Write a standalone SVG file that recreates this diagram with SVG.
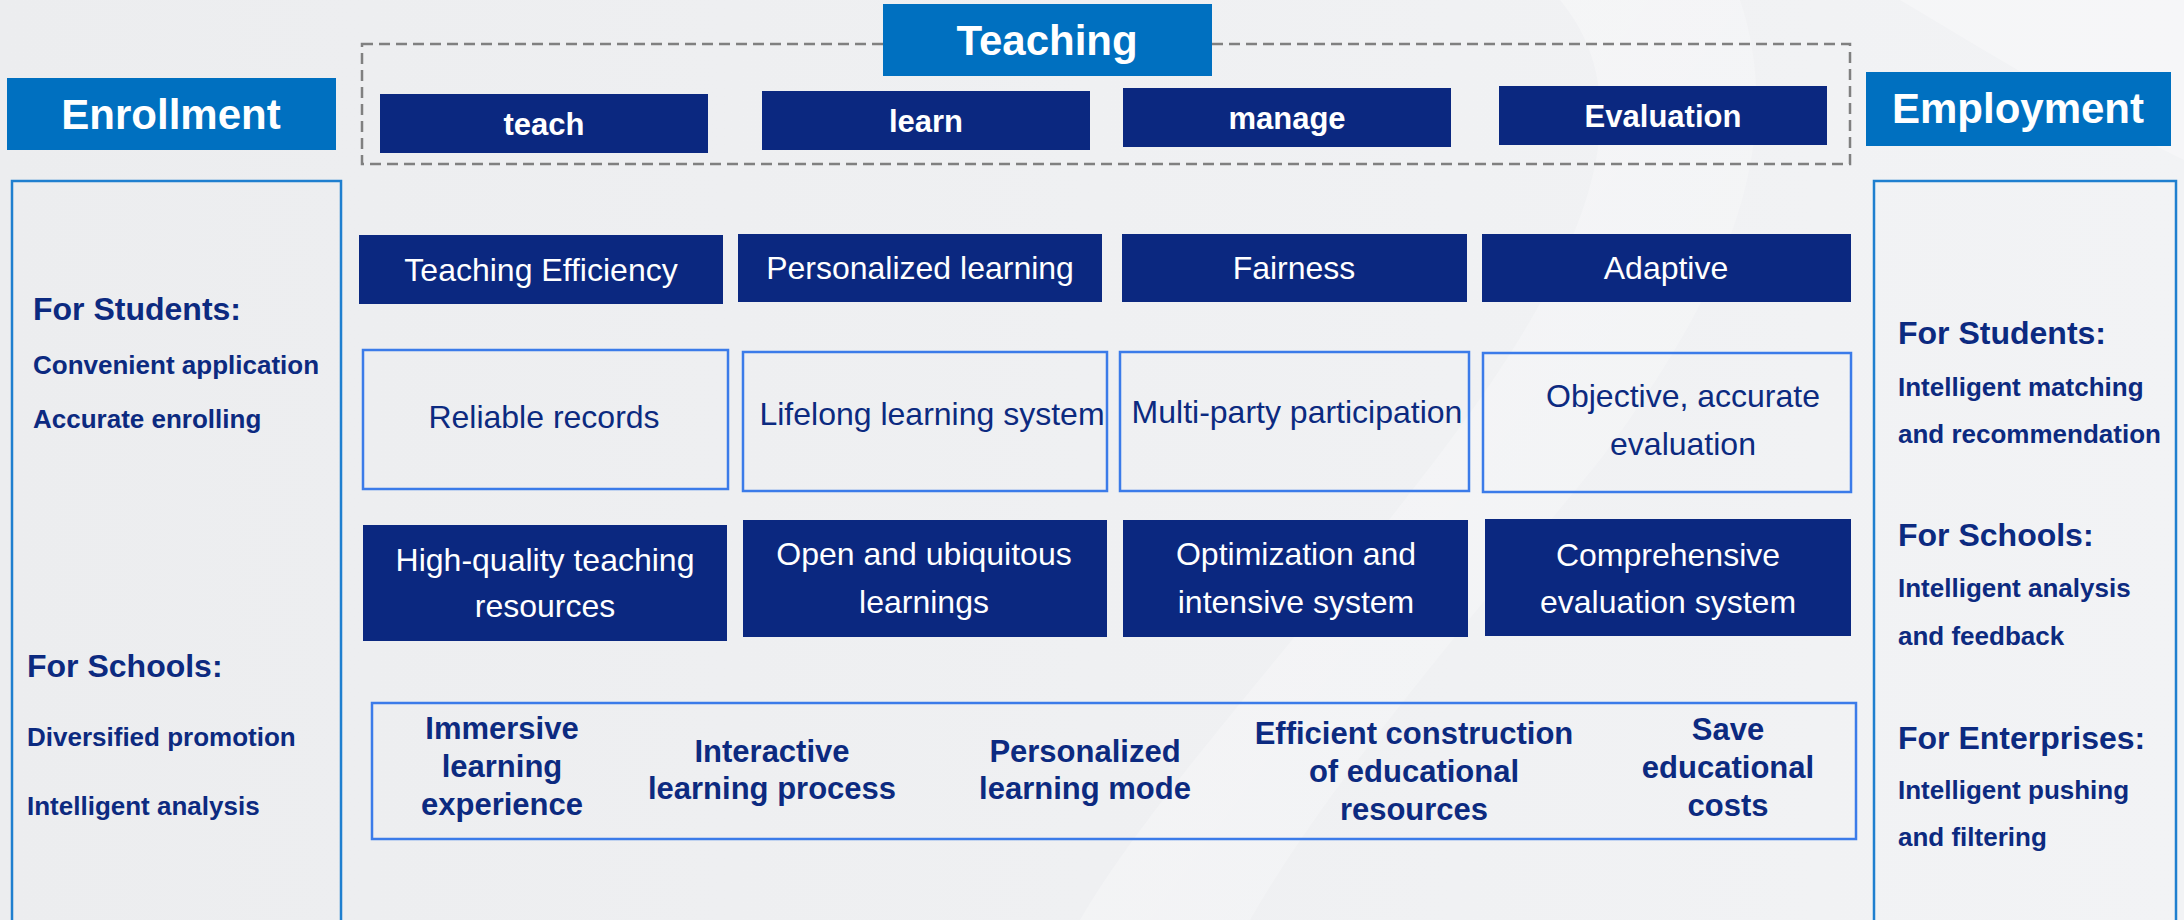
<svg xmlns="http://www.w3.org/2000/svg" width="2184" height="920" viewBox="0 0 2184 920">
<defs>
<linearGradient id="bg" x1="0" y1="0" x2="1" y2="0">
<stop offset="0" stop-color="#ecedef"/>
<stop offset="0.5" stop-color="#eff0f2"/>
<stop offset="1" stop-color="#f2f3f5"/>
</linearGradient>
<linearGradient id="sw" x1="0" y1="0" x2="1" y2="1">
<stop offset="0" stop-color="#ffffff" stop-opacity="0.7"/>
<stop offset="1" stop-color="#ffffff" stop-opacity="0.2"/>
</linearGradient>
<style>
.hdr{fill:#0070c0}
.dark{fill:#0b2880}
.out{fill:none;stroke:#3b7be9;stroke-width:2.5}
.side{fill:none;stroke:#1f7fcf;stroke-width:2.5}
.t{font-family:"Liberation Sans",Arial,sans-serif}
.hw{font-size:42px;font-weight:bold;fill:#ffffff;text-anchor:middle}
.tw{font-size:31px;font-weight:bold;fill:#ffffff;text-anchor:middle}
.rw{font-size:32px;fill:#ffffff;text-anchor:middle}
.rn{font-size:32px;fill:#0c2a80;text-anchor:middle}
.bn{font-size:31px;font-weight:bold;fill:#0c2a80;text-anchor:middle}
.sh{font-size:32px;font-weight:bold;fill:#0c2a80}
.si{font-size:26px;font-weight:bold;fill:#0c2a80}
</style>
</defs>
<rect x="0" y="0" width="2184" height="920" fill="url(#bg)"/>
<path d="M1560 0 C1660 120 1560 300 1420 480 C1290 650 1150 800 1080 920 L1250 920 C1330 780 1470 620 1600 460 C1720 300 1790 150 1740 0 Z" fill="url(#sw)" opacity="0.55"/>
<path d="M1900 0 L2184 0 L2184 160 C2100 120 2000 60 1900 0 Z" fill="#ffffff" opacity="0.3"/>

<g id="teaching-frame">
<rect x="362" y="44" width="1488" height="120" fill="none" stroke="#808080" stroke-width="2.5" stroke-dasharray="11 6"/>
</g>
<g id="teaching">
<rect class="hdr" x="883" y="4" width="329" height="72"/>
<text class="t hw" x="1047" y="55">Teaching</text>
</g>
<g id="enrollment">
<rect class="hdr" x="7" y="78" width="329" height="72"/>
<text class="t hw" x="171" y="129">Enrollment</text>
</g>
<g id="employment">
<rect class="hdr" x="1866" y="72" width="305" height="74"/>
<text class="t hw" x="2018" y="123">Employment</text>
</g>

<g id="teach"><rect class="dark" x="380" y="94" width="328" height="59"/><text class="t tw" x="544" y="135">teach</text></g>
<g id="learn"><rect class="dark" x="762" y="91" width="328" height="59"/><text class="t tw" x="926" y="132">learn</text></g>
<g id="manage"><rect class="dark" x="1123" y="88" width="328" height="59"/><text class="t tw" x="1287" y="129">manage</text></g>
<g id="evaluation"><rect class="dark" x="1499" y="86" width="328" height="59"/><text class="t tw" x="1663" y="127">Evaluation</text></g>

<g id="enrollment-panel">
<rect class="side" x="12" y="181" width="329" height="760"/>
<text class="t sh" x="33" y="320">For Students:</text>
<text class="t si" x="33" y="374">Convenient application</text>
<text class="t si" x="33" y="428">Accurate enrolling</text>
<text class="t sh" x="27" y="677">For Schools:</text>
<text class="t si" x="27" y="746">Diversified promotion</text>
<text class="t si" x="27" y="815">Intelligent analysis</text>
</g>
<g id="employment-panel">
<rect class="side" x="1874" y="181" width="302" height="760"/>
<text class="t sh" x="1898" y="344">For Students:</text>
<text class="t si" x="1898" y="396">Intelligent matching</text>
<text class="t si" x="1898" y="443">and recommendation</text>
<text class="t sh" x="1898" y="546">For Schools:</text>
<text class="t si" x="1898" y="597">Intelligent analysis</text>
<text class="t si" x="1898" y="645">and feedback</text>
<text class="t sh" x="1898" y="749">For Enterprises:</text>
<text class="t si" x="1898" y="799">Intelligent pushing</text>
<text class="t si" x="1898" y="846">and filtering</text>
</g>

<g id="teaching-efficiency"><rect class="dark" x="359" y="235" width="364" height="69"/><text class="t rw" x="541" y="281">Teaching Efficiency</text></g>
<g id="personalized-learning"><rect class="dark" x="738" y="234" width="364" height="68"/><text class="t rw" x="920" y="279">Personalized learning</text></g>
<g id="fairness"><rect class="dark" x="1122" y="234" width="345" height="68"/><text class="t rw" x="1294" y="279">Fairness</text></g>
<g id="adaptive"><rect class="dark" x="1482" y="234" width="369" height="68"/><text class="t rw" x="1666" y="279">Adaptive</text></g>

<g id="reliable-records"><rect class="out" x="363" y="350" width="365" height="139"/><text class="t rn" x="544" y="428">Reliable records</text></g>
<g id="lifelong"><rect class="out" x="743" y="352" width="364" height="139"/><text class="t rn" x="932" y="425">Lifelong learning system</text></g>
<g id="multi-party"><rect class="out" x="1120" y="352" width="349" height="139"/><text class="t rn" x="1297" y="423">Multi-party participation</text></g>
<g id="objective"><rect class="out" x="1483" y="353" width="368" height="139"/><text class="t rn" x="1683" y="407">Objective, accurate</text><text class="t rn" x="1683" y="455">evaluation</text></g>

<g id="high-quality"><rect class="dark" x="363" y="525" width="364" height="116"/><text class="t rw" x="545" y="571">High-quality teaching</text><text class="t rw" x="545" y="617">resources</text></g>
<g id="open"><rect class="dark" x="743" y="520" width="364" height="117"/><text class="t rw" x="924" y="565">Open and ubiquitous</text><text class="t rw" x="924" y="613">learnings</text></g>
<g id="optimization"><rect class="dark" x="1123" y="520" width="345" height="117"/><text class="t rw" x="1296" y="565">Optimization and</text><text class="t rw" x="1296" y="613">intensive system</text></g>
<g id="comprehensive"><rect class="dark" x="1485" y="519" width="366" height="117"/><text class="t rw" x="1668" y="566">Comprehensive</text><text class="t rw" x="1668" y="613">evaluation system</text></g>

<g id="benefits">
<rect class="out" x="372" y="703" width="1484" height="136"/>
<text class="t bn" x="502" y="739">Immersive</text>
<text class="t bn" x="502" y="777">learning</text>
<text class="t bn" x="502" y="815">experience</text>
<text class="t bn" x="772" y="762">Interactive</text>
<text class="t bn" x="772" y="799">learning process</text>
<text class="t bn" x="1085" y="762">Personalized</text>
<text class="t bn" x="1085" y="799">learning mode</text>
<text class="t bn" x="1414" y="744">Efficient construction</text>
<text class="t bn" x="1414" y="782">of educational</text>
<text class="t bn" x="1414" y="820">resources</text>
<text class="t bn" x="1728" y="740">Save</text>
<text class="t bn" x="1728" y="778">educational</text>
<text class="t bn" x="1728" y="816">costs</text>
</g>
<g id="connectors"/>
</svg>
